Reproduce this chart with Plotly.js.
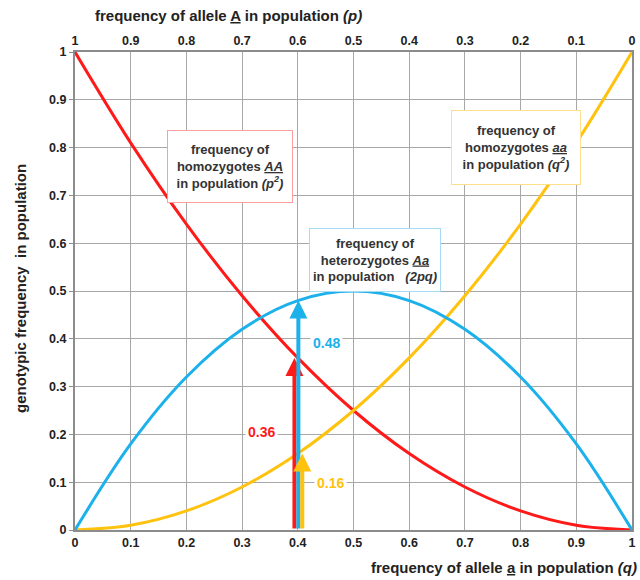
<!DOCTYPE html>
<html><head><meta charset="utf-8">
<script src="https://cdn.plot.ly/plotly-3.0.1.min.js"></script>
<style>html,body{margin:0;padding:0;background:#fff}#chart{width:640px;height:580px}</style>
</head><body><div id="chart"></div>
<script>
// allele a frequency (q)
const qValues = [0, 0.1, 0.2, 0.3, 0.4, 0.5, 0.6, 0.7, 0.8, 0.9, 1];
// genotype frequencies
const freqAA = [1, 0.81, 0.64, 0.49, 0.36, 0.25, 0.16, 0.09, 0.04, 0.01, 0];
const freqAa = [0, 0.18, 0.32, 0.42, 0.48, 0.5, 0.48, 0.42, 0.32, 0.18, 0];
const freqaa = [0, 0.01, 0.04, 0.09, 0.16, 0.25, 0.36, 0.49, 0.64, 0.81, 1];
// tick labels
const bottomTicks = ["0","0.1","0.2","0.3","0.4","0.5","0.6","0.7","0.8","0.9","1"];
const topTicks = ["1","0.9","0.8","0.7","0.6","0.5","0.4","0.3","0.2","0.1","0"];
const pValues = [1, 0.9, 0.8, 0.7, 0.6, 0.5, 0.4, 0.3, 0.2, 0.1, 0];
const yTicks = [0,0.1,0.2,0.3,0.4,0.5,0.6,0.7,0.8,0.9,1];
const yTickText = ["0","0.1","0.2","0.3","0.4","0.5","0.6","0.7","0.8","0.9","1"];
// arrows at q = 0.4
const arrowX = [0.394, 0.401, 0.408];
const arrowY = [0.36, 0.48, 0.16];
const arrowLabels = ["0.36", "0.48", "0.16"];

const RED = "#ff1a1a", BLUE = "#1cb1ea", ORANGE = "#ffc20e";
const arrowColors = [RED, BLUE, ORANGE];
const FONT = "Liberation Sans, Arial, sans-serif";

const traces = [
  {x: qValues, y: freqAA, mode: "lines", line: {color: RED, width: 3, shape: "spline"}, hoverinfo: "skip"},
  {x: qValues, y: freqaa, mode: "lines", line: {color: ORANGE, width: 3, shape: "spline"}, hoverinfo: "skip"},
  {x: qValues, y: freqAa, mode: "lines", line: {color: BLUE, width: 3, shape: "spline"}, hoverinfo: "skip"},
  {x: pValues, y: pValues.map(()=>null), xaxis: "x2", mode: "lines", showlegend: false, hoverinfo: "skip"}
];

const annotations = [];
for (let i = 0; i < arrowX.length; i++) {
  annotations.push({
    x: arrowX[i], y: arrowY[i], ax: arrowX[i], ay: 0, xref: "x", yref: "y", axref: "x", ayref: "y",
    text: "", showarrow: true, arrowhead: 2, arrowsize: 0.9, arrowwidth: 4, arrowcolor: arrowColors[i], standoff: 0
  });
}
const labelPos = [
  {x: 0.334, y: 0.204},
  {x: 0.452, y: 0.391},
  {x: 0.458, y: 0.098}
];
for (let i = 0; i < arrowLabels.length; i++) {
  annotations.push({
    x: labelPos[i].x, y: labelPos[i].y, xref: "x", yref: "y", showarrow: false,
    text: "<b>" + arrowLabels[i] + "</b>", font: {family: FONT, size: 14, color: arrowColors[i]},
    bgcolor: "#ffffff", borderpad: 2
  });
}
const boxFont = {family: FONT, size: 13, color: "#333333"};
annotations.push({
  x: 0.278, y: 0.761, xref: "x", yref: "y", showarrow: false, align: "center",
  text: "<b>frequency of<br>homozygotes <u><i>AA</i></u><br>in population <i>(p<sup>2</sup>)</i></b>",
  font: boxFont, bgcolor: "#ffffff", bordercolor: "#ff9e9e", borderwidth: 1, width: 122, height: 69
});
annotations.push({
  x: 0.792, y: 0.8, xref: "x", yref: "y", showarrow: false, align: "center",
  text: "<b>frequency of<br>homozygotes <u><i>aa</i></u><br>in population <i>(q<sup>2</sup>)</i></b>",
  font: boxFont, bgcolor: "#ffffff", bordercolor: "#ffe08a", borderwidth: 1, width: 126, height: 71
});
annotations.push({
  x: 0.539, y: 0.565, xref: "x", yref: "y", showarrow: false, align: "center",
  text: "<b>frequency of<br>heterozygotes <u><i>Aa</i></u><br>in population   <i>(2pq)</i></b>",
  font: boxFont, bgcolor: "#ffffff", bordercolor: "#a6dcf3", borderwidth: 1, width: 128, height: 60
});
const titleFont = {family: FONT, size: 15, color: "#222222"};
annotations.push({
  x: 0.275, y: 1.077, xref: "paper", yref: "paper", showarrow: false, xanchor: "center", yanchor: "middle",
  text: "<b>frequency of allele <u>A</u> in population <i>(p)</i></b>", font: titleFont
});
annotations.push({
  x: 1.013, y: -0.079, xref: "paper", yref: "paper", showarrow: false, xanchor: "right", yanchor: "middle",
  text: "<b>frequency of allele <u>a</u> in population <i>(q)</i></b>", font: titleFont
});
annotations.push({
  x: -0.099, y: 0.506, xref: "paper", yref: "paper", showarrow: false, textangle: -90, xanchor: "center", yanchor: "middle",
  text: "<b>genotypic frequency  in population</b>", font: titleFont
});

const tickFont = {family: FONT, size: 12.5, color: "#222222"};
const layout = {
  width: 640, height: 580,
  margin: {l: 75, r: 8, t: 52, b: 50},
  paper_bgcolor: "#ffffff", plot_bgcolor: "#ffffff",
  showlegend: false,
  xaxis: {
    range: [0, 1], tickvals: qValues, ticktext: bottomTicks.map(t => "<b>" + t + "</b>"),
    showgrid: true, gridcolor: "#a8a8a8", gridwidth: 1, zeroline: false,
    showline: true, linecolor: "#8c8c8c", linewidth: 2, mirror: false,
    ticks: "", tickfont: tickFont
  },
  xaxis2: {
    overlaying: "x", side: "top", range: [1, 0], tickvals: pValues, ticktext: topTicks.map(t => "<b>" + t + "</b>"),
    showgrid: false, zeroline: false, showline: true, linecolor: "#8c8c8c", linewidth: 2,
    ticks: "", tickfont: tickFont
  },
  yaxis: {
    range: [0, 1], tickvals: yTicks, ticktext: yTickText.map(t => "<b>" + t + "</b>"),
    showgrid: true, gridcolor: "#a8a8a8", gridwidth: 1, zeroline: false,
    showline: true, linecolor: "#8c8c8c", linewidth: 2, mirror: true,
    ticks: "outside", ticklen: 4, tickcolor: "#8c8c8c", tickfont: tickFont
  },
  annotations: annotations
};
Plotly.newPlot("chart", traces, layout, {staticPlot: true});
</script></body></html>
